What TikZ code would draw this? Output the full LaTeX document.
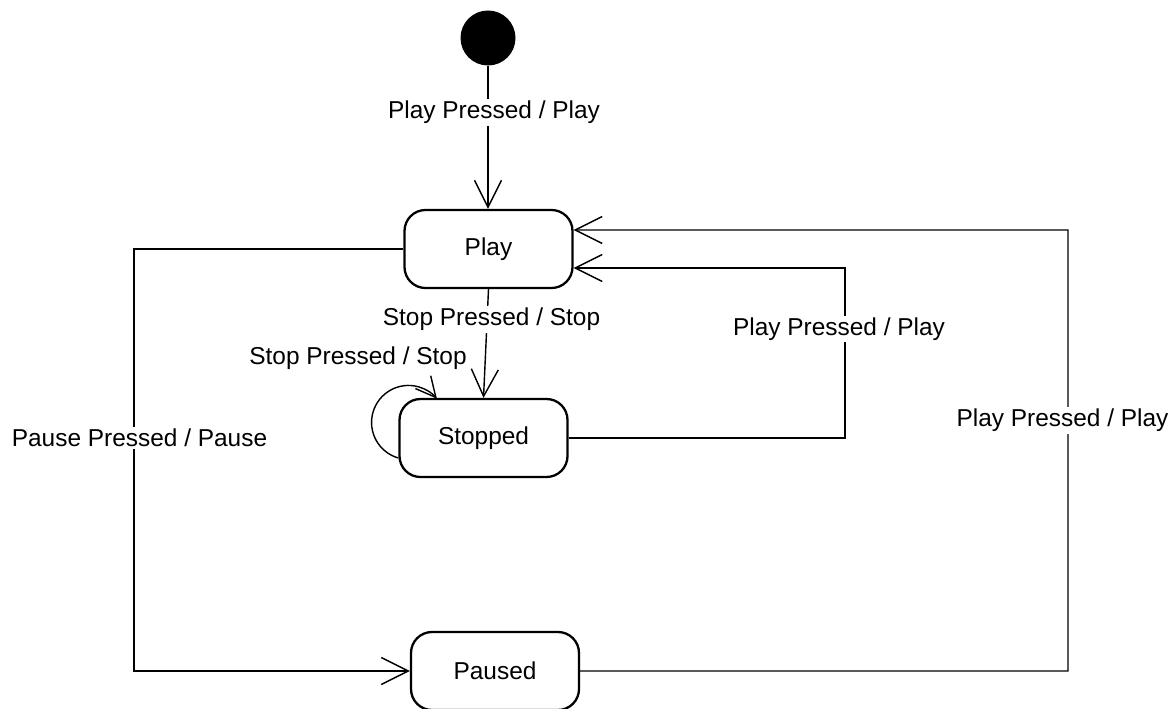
\documentclass[tikz,border=0pt]{standalone}
\usepackage{fontspec}
\setmainfont{Liberation Sans}
\usepackage{tikz}
\usetikzlibrary{arrows.meta, positioning, calc}

\begin{document}
\begin{tikzpicture}[
    state/.style={draw, line width=1.3pt, minimum width=3.36cm, minimum height=1.56cm, rounded corners=0.42cm, font=\fontsize{13.9}{16}\selectfont, align=center},
    lbl/.style={fill=white, inner sep=1pt, font=\fontsize{13.9}{16}\selectfont},
    tr/.style={line width=0.8pt, -{Straight Barb[length=0.54cm, width=0.54cm, line width=0.8pt]}},
    looptr/.style={line width=0.8pt, -{Straight Barb[length=0.4cm, width=0.4cm, line width=0.8pt]}}
]
    \useasboundingbox (0,0) rectangle (23.5,-14.18);

    % Initial state
    \node[circle, fill=black, minimum size=1.1cm, inner sep=0pt] (init) at (9.76,-0.76) {};

    % States
    \node[state] (play) at (9.77,-4.98) {Play};
    \node[state] (stopped) at (9.67,-8.76) {Stopped};
    \node[state] (paused) at (9.9,-13.42) {Paused};

    % Bends
    \coordinate (leftbend) at (2.68,-4.98);
    \coordinate (midbend) at (16.9,-5.36);
    \coordinate (rightbend) at (21.36,-4.6);

    % Transitions
    \draw[tr] (init) -- (init |- play.north);
    \draw[tr] (play.south) -- (stopped.north);
    \draw[looptr] ([yshift=-0.4cm]stopped.west) arc[start angle=254, end angle=40, radius=0.74cm];
    \draw[tr] (stopped.east) -| (midbend) -- ([yshift=-0.38cm]play.east);
    \draw[tr] (paused.east) -| (rightbend) -- ([yshift=0.38cm]play.east);
    \draw[tr] (play.west) -- (leftbend) |- (paused.west);

    % Labels
    \node[lbl] (l-init) at (9.88,-2.25) {Play Pressed / Play};
    \node[lbl] (l-stop) at (9.83,-6.39) {Stop Pressed / Stop};
    \node[lbl] (l-self) at (7.16,-7.17) {Stop Pressed / Stop};
    \node[lbl] (l-resume) at (16.78,-6.58) {Play Pressed / Play};
    \node[lbl] (l-unpause) at (21.25,-8.41) {Play Pressed / Play};
    \node[lbl] (l-pause) at (2.79,-8.76) {Pause Pressed / Pause};
\end{tikzpicture}
\end{document}
